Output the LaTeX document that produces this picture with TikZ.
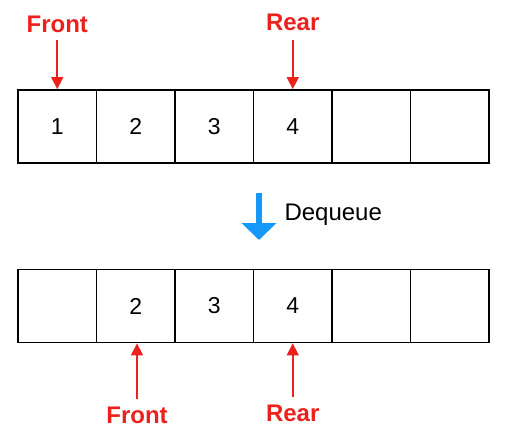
\documentclass[tikz,border=0pt]{standalone}
\usepackage{fontspec}
\setmainfont{Liberation Sans}
\usetikzlibrary{arrows.meta}
\definecolor{ptrred}{RGB}{236,32,28}
\definecolor{opblue}{RGB}{22,152,250}
\tikzset{
  cell/.style={draw, line width=1.8pt, minimum width=78.5pt, minimum height=73pt, inner sep=0pt, font=\fontsize{23}{26}\selectfont},
  ptr/.style={text=ptrred, font=\bfseries\fontsize{24}{27}\selectfont},
  ptrarrow/.style={draw=ptrred, line width=1.6pt, -{Triangle[width=12pt,length=12pt]}},
  oparrow/.style={draw=opblue, line width=6pt, -{Triangle[width=34pt,length=17pt]}}
}
\begin{document}
\begin{tikzpicture}[x=1pt, y=-1pt]
        \useasboundingbox (0,0) rectangle (519,442);
        % before
        \node[cell] (a1) at (57.25,126.5) {1};
        \node[cell] (a2) at (135.75,126.5) {2};
        \node[cell] (a3) at (214.25,126.5) {3};
        \node[cell] (a4) at (292.75,126.5) {4};
        \node[cell] (a5) at (371.25,126.5) {};
        \node[cell] (a6) at (449.75,126.5) {};
        \node[ptr] (frontA) at (57.25,24) {Front};
        \node[ptr] (rearA) at (292.75,22) {Rear};
        \draw[ptrarrow, shorten <=4pt] (frontA) to (a1.north);
        \draw[ptrarrow, shorten <=6pt] (rearA) to (a4.north);
        % dequeue
        \coordinate (dqtop) at (259,193);
        \coordinate (dqbot) at (259,240);
        \draw[oparrow] (dqtop) to (dqbot);
        \node[anchor=west, font=\fontsize{24}{27}\selectfont] (deq) at (281,215) {Dequeue};
        % after
        \node[cell] (b1) at (57.25,306) {};
        \node[cell] (b2) at (135.75,306) {2};
        \node[cell] (b3) at (214.25,306) {3};
        \node[cell] (b4) at (292.75,306) {4};
        \node[cell] (b5) at (371.25,306) {};
        \node[cell] (b6) at (449.75,306) {};
        \node[ptr] (frontB) at (137,415) {Front};
        \node[ptr] (rearB) at (292.75,413) {Rear};
        \draw[ptrarrow, shorten <=4pt] (frontB) to (frontB |- b2.south);
        \draw[ptrarrow, shorten <=4pt] (rearB) to (b4.south);
    \end{tikzpicture}
\end{document}
